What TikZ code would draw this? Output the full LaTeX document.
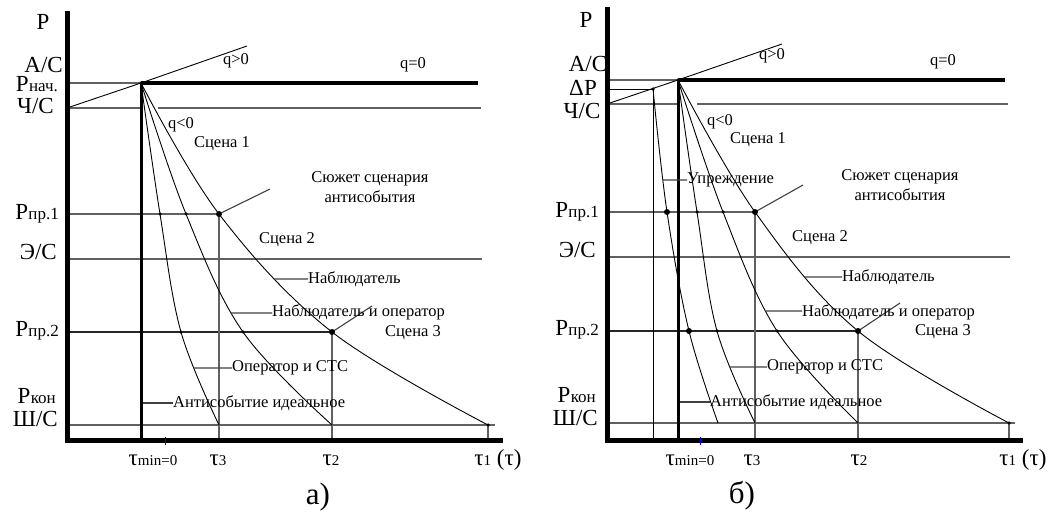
\documentclass[tikz,border=0pt]{standalone}
\usepackage{fontspec}
\setmainfont{Liberation Serif}
\usetikzlibrary{intersections}
\newcommand\PS[1]{P\kern0.3pt{\fontsize{17}{17}\selectfont #1}}
\newcommand\TS[1]{τ{\fontsize{15}{15}\selectfont #1}}
\begin{document}
\begin{tikzpicture}[x=1pt,y=-1pt,
  axisln/.style={line width=5pt,line join=miter},
  thickln/.style={line width=3.5pt},
  gridln/.style={line width=1.2pt,draw=black!62},
  crv/.style={line width=0.9pt},
  ptr/.style={line width=1.1pt,draw=black!75},
  lbl/.style={font=\fontsize{16.5}{18.5}\selectfont,inner sep=0pt},
  big/.style={font=\fontsize{23}{25}\selectfont,inner sep=0pt},
  tlab/.style={font=\fontsize{23}{25}\selectfont,inner sep=0pt},
  capt/.style={font=\fontsize{31}{33}\selectfont,inner sep=0pt},
  dotsm/.style={circle,fill,inner sep=0pt,minimum size=3.5pt},
  dotbg/.style={circle,fill,inner sep=0pt,minimum size=6pt}]
\useasboundingbox (0,0) rectangle (1059,516);
% ================= panel a =================
\coordinate (aO) at (67,440); \coordinate (aTop) at (67,11); \coordinate (aXe) at (503,440);
\coordinate (aA) at (141,83); \coordinate (aPn) at (67,83); \coordinate (aQe) at (478,83);
\coordinate (aC0) at (67,108); \coordinate (aC1) at (141,108); \coordinate (aC2) at (158,108); \coordinate (aC3) at (481,108);
\coordinate (aQp) at (247,46); \coordinate (aVb) at (141,440);
\coordinate (aP1) at (67,214); \coordinate (aE0) at (67,259); \coordinate (aE1) at (482,259);
\coordinate (aP2) at (67,332); \coordinate (aS0) at (67,425); \coordinate (aS1) at (495,425);
\coordinate (aT3) at (219,214); \coordinate (aT3b) at (219,440);
\coordinate (aT2) at (332,332); \coordinate (aT2b) at (332,440);
\coordinate (aT1) at (488,425); \coordinate (aT1b) at (488,440);
\coordinate (aK2e) at (332,425); \coordinate (aK3e) at (219,425);
\draw[gridln] (aPn) -- (aA);
\draw[gridln] (aC0) -- (aC1); \draw[gridln] (aC2) -- (aC3);
\draw[gridln] (aP1) -- (aT3);
\draw[gridln] (aE0) -- (aE1);
\draw[gridln,draw=black!85] (aP2) -- (aT2);
\draw[gridln] (aS0) -- (aS1);
\draw[gridln] (aT3) -- (aT3b); \draw[gridln] (aT2) -- (aT2b); \draw[gridln] (aT1) -- (aT1b);
\draw[crv] (aC0) -- (aA) -- (aQp);
\draw[crv,name path=ca1] plot[smooth,tension=0.6] coordinates {(aA) (aT3) (aT2) (aT1)};
\draw[crv,name path=ca2] plot[smooth,tension=0.6] coordinates {(aA) (186,214) (243,332) (aK2e)};
\draw[crv,name path=ca3] plot[smooth,tension=0.6] coordinates {(aA) (160,214) (181,332) (aK3e)};
\draw[thickln] (aA) -- (aQe);
\draw[line width=3pt] (aA) -- (aVb);
\draw[axisln] (aTop) -- (aO) -- (aXe);
\draw[blue,line width=0.8pt] (165,437) -- (165,445);
% pointers
\path[name path=ha1] (150,279) -- (450,279);
\path[name path=ha2] (150,313) -- (450,313);
\path[name path=ha3] (150,368) -- (450,368);
\path[name intersections={of=ca1 and ha1,by={pa1}}];
\path[name intersections={of=ca2 and ha2,by={pa2}}];
\path[name intersections={of=ca3 and ha3,by={pa3}}];
\coordinate (qa1) at (308,279); \coordinate (qa2) at (272,313); \coordinate (qa3) at (232,368);
\draw[ptr] (aT3) -- (270,189);
\draw[ptr] (pa1) -- (qa1);
\draw[ptr] (pa2) -- (qa2);
\draw[ptr] (aT2) -- (372,306);
\draw[ptr] (pa3) -- (qa3);
\draw[ptr] (143,403) -- (173,403);
% dots
\node[dotsm] (ad1) at (160,214) {}; \node[dotsm] (ad2) at (186,214) {}; \node[dotbg] (ad3) at (aT3) {};
\node[dotsm] (ad4) at (181,332) {}; \node[dotsm] (ad5) at (243,332) {}; \node[dotbg] (ad6) at (aT2) {};
\node[dotsm] (ad7) at (aT1) {}; \node[dotsm] (ad0) at (aA) {};
% labels
\node[big] (aLP) at (43,22) {P};
\node[big,anchor=east] (aLAC) at (63,65) {А/С};
\node[big,anchor=east] (aLPn) at (58,84) {\PS{нач.}};
\node[big,anchor=east] (aLCS) at (54,106) {Ч/С};
\node[big,anchor=east] (aLP1) at (59,214) {\PS{пр.1}};
\node[big,anchor=east] (aLES) at (57,252) {Э/С};
\node[big,anchor=east] (aLP2) at (59,331) {\PS{пр.2}};
\node[big,anchor=east] (aLPk) at (56,396) {\PS{кон}};
\node[big,anchor=east] (aLSS) at (58,419) {Ш/С};
\node[lbl] (aQ1) at (236,61) {q>0};
\node[lbl] (aQ0) at (413,65) {q=0};
\node[lbl] (aQ2) at (181,125) {q<0};
\node[lbl] (aSc1) at (222,144) {Сцена 1};
\node[lbl,align=center] (aSj) at (370,187) {Сюжет сценария\\[1pt]антисобытия};
\node[lbl] (aSc2) at (287,240) {Сцена 2};
\node[lbl,anchor=west] (aN1) at (qa1) {Наблюдатель};
\node[lbl,anchor=west] (aN2) at ([yshift=1pt]qa2) {Наблюдатель и оператор};
\node[lbl] (aSc3) at (413,333) {Сцена 3};
\node[lbl,anchor=west] (aN3) at (qa3) {Оператор и СТС};
\node[lbl,anchor=west] (aN4) at (173,403) {Антисобытие идеальное};
\node[tlab] (aTm) at (153,460) {\TS{min=0}};
\node[tlab] (aTt3) at (218,460) {\TS{3}};
\node[tlab] (aTt2) at (331,460) {\TS{2}};
\node[tlab] (aTt1) at (498,460) {\TS{1} (τ)};
\node[capt] (aCap) at (318,497) {а)};
% ================= panel b =================
\coordinate (bO) at (607,440); \coordinate (bTop) at (607,7); \coordinate (bXe) at (1023,440);
\coordinate (bA) at (678,80); \coordinate (bPn) at (607,80); \coordinate (bQe) at (1005,80);
\coordinate (bD0) at (607,89); \coordinate (bD) at (653,89);
\coordinate (bC0) at (607,104); \coordinate (bC1) at (678,104); \coordinate (bC2) at (697,104); \coordinate (bC3) at (1008,104);
\coordinate (bQp) at (782,44); \coordinate (bVb) at (678,440); \coordinate (bDb) at (653,440);
\coordinate (bP1) at (607,212); \coordinate (bE0) at (607,257); \coordinate (bE1) at (1010,257);
\coordinate (bP2) at (607,331); \coordinate (bS0) at (607,423); \coordinate (bS1) at (1015,423);
\coordinate (bT3) at (755,212); \coordinate (bT3b) at (755,440);
\coordinate (bT2) at (858,331); \coordinate (bT2b) at (858,440);
\coordinate (bT1) at (1009,423); \coordinate (bT1b) at (1009,440);
\coordinate (bK2e) at (858,423); \coordinate (bK3e) at (755,423); \coordinate (bUe) at (718,423);
\draw[gridln] (bPn) -- (bA);
\draw[crv] (bD0) -- (bD);
\draw[gridln] (bC0) -- (bC1); \draw[gridln] (bC2) -- (bC3);
\draw[gridln] (bP1) -- (bT3);
\draw[gridln] (bE0) -- (bE1);
\draw[gridln,draw=black!85] (bP2) -- (bT2);
\draw[gridln] (bS0) -- (bS1);
\draw[gridln] (bT3) -- (bT3b); \draw[gridln] (bT2) -- (bT2b); \draw[gridln] (bT1) -- (bT1b);
\draw[crv] (bD) -- (bDb);
\draw[crv] (bC0) -- (bA) -- (bQp);
\draw[crv,name path=cb1] plot[smooth,tension=0.6] coordinates {(bA) (bT3) (bT2) (bT1)};
\draw[crv,name path=cb2] plot[smooth,tension=0.6] coordinates {(bA) (723,212) (777,331) (bK2e)};
\draw[crv,name path=cb3] plot[smooth,tension=0.6] coordinates {(bA) (697,212) (717,331) (bK3e)};
\draw[crv,name path=cbu] plot[smooth,tension=0.6] coordinates {(bD) (667,212) (689,331) (bUe)};
\draw[thickln] (bA) -- (bQe);
\draw[line width=3pt] (bA) -- (bVb);
\draw[axisln] (bTop) -- (bO) -- (bXe);
\draw[blue,line width=0.8pt] (700,437) -- (700,445);
% pointers
\path[name path=hb0] (640,180) -- (700,180);
\path[name path=hb1] (700,277) -- (1000,277);
\path[name path=hb2] (700,311) -- (1000,311);
\path[name path=hb3] (690,367) -- (1000,367);
\path[name intersections={of=cbu and hb0,by={pb0}}];
\path[name intersections={of=cb1 and hb1,by={pb1}}];
\path[name intersections={of=cb2 and hb2,by={pb2}}];
\path[name intersections={of=cb3 and hb3,by={pb3}}];
\coordinate (qb0) at (687,180); \coordinate (qb1) at (842,277); \coordinate (qb2) at (802,311); \coordinate (qb3) at (767,367);
\draw[ptr] (bT3) -- (803,185);
\draw[ptr] (pb0) -- (qb0);
\draw[ptr] (pb1) -- (qb1);
\draw[ptr] (pb2) -- (qb2);
\draw[ptr] (bT2) -- (900,303);
\draw[ptr] (pb3) -- (qb3);
\draw[ptr] (680,402) -- (710,402);
% dots
\node[dotsm] (bd0) at (bA) {}; \node[dotsm] (bdD) at (bD) {};
\node[dotbg] (bd1) at (667,212) {}; \node[dotsm] (bd2) at (697,212) {}; \node[dotsm] (bd3) at (723,212) {}; \node[dotbg] (bd4) at (bT3) {};
\node[dotbg] (bd5) at (689,331) {}; \node[dotsm] (bd6) at (717,331) {}; \node[dotsm] (bd7) at (777,331) {}; \node[dotbg] (bd8) at (bT2) {};
\node[dotsm] (bd9) at (bT1) {};
% labels
\node[big] (bLP) at (586,20) {P};
\node[big] (bLAC) at (588,64) {А/С};
\node[big] (bLD) at (583,88) {ΔP};
\node[big] (bLCS) at (582,111) {Ч/С};
\node[big,anchor=east] (bLP1) at (599,212) {\PS{пр.1}};
\node[big,anchor=east] (bLES) at (596,250) {Э/С};
\node[big,anchor=east] (bLP2) at (599,330) {\PS{пр.2}};
\node[big,anchor=east] (bLPk) at (596,395) {\PS{кон}};
\node[big,anchor=east] (bLSS) at (598,418) {Ш/С};
\node[lbl] (bQ1) at (772,56) {q>0};
\node[lbl] (bQ0) at (943,62) {q=0};
\node[lbl] (bQ2) at (720,122) {q<0};
\node[lbl] (bSc1) at (758,140) {Сцена 1};
\node[lbl,anchor=west] (bUp) at (qb0) {Упреждение};
\node[lbl,align=center] (bSj) at (900,185) {Сюжет сценария\\[1pt]антисобытия};
\node[lbl] (bSc2) at (820,238) {Сцена 2};
\node[lbl,anchor=west] (bN1) at (qb1) {Наблюдатель};
\node[lbl,anchor=west] (bN2) at ([yshift=-1pt]qb2) {Наблюдатель и оператор};
\node[lbl] (bSc3) at (943,332) {Сцена 3};
\node[lbl,anchor=west] (bN3) at (qb3) {Оператор и СТС};
\node[lbl,anchor=west] (bN4) at (710,402) {Антисобытие идеальное};
\node[tlab] (bTm) at (690,460) {\TS{min=0}};
\node[tlab] (bTt3) at (752,460) {\TS{3}};
\node[tlab] (bTt2) at (859,460) {\TS{2}};
\node[tlab] (bTt1) at (1023,460) {\TS{1} (τ)};
\node[capt] (bCap) at (742,496) {б)};
\end{tikzpicture}
\end{document}
